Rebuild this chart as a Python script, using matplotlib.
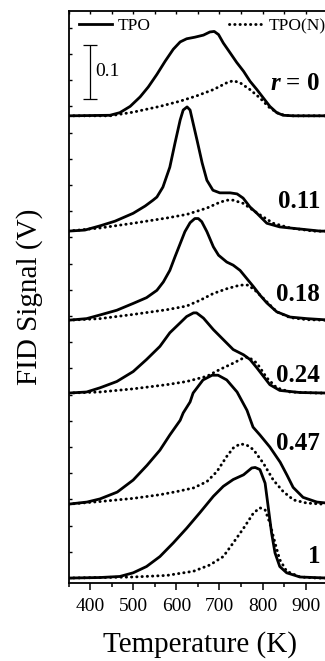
import matplotlib
matplotlib.use('Agg')
from matplotlib import pyplot as plt

plt.rcParams['font.family'] = ['Liberation Serif', 'DejaVu Serif']
plt.rcParams['mathtext.fontset'] = 'custom'
plt.rcParams['mathtext.it'] = 'Liberation Serif:italic:bold'
plt.rcParams['mathtext.rm'] = 'Liberation Serif:bold'

# r values and vertical offsets of each trace (V)
labels = ['$r$ = 0', '0.11', '0.18', '0.24', '0.47', '1']
offsets = [0.882, 0.662, 0.492, 0.353, 0.141, 0.0]
label_y = [0.931, 0.706, 0.529, 0.374, 0.244, 0.029]

# TPO (solid) traces: temperature (K), signal above baseline (V)
tpo_t = [
    [350, 446, 469, 493, 516, 535, 555, 574, 593, 609, 624, 643, 663, 678, 688, 698, 709, 725,
     740, 756, 771, 787, 802, 817, 833, 848, 872, 950],
    [350, 388, 423, 458, 500, 528, 546, 555, 569, 585, 597, 609, 616, 625, 632, 639, 648, 660,
     671, 685, 701, 725, 741, 755, 771, 787, 810, 840, 887, 934, 950],
    [350, 392, 423, 462, 500, 531, 555, 570, 585, 597, 609, 620, 632, 643, 651, 659, 671, 686,
     698, 717, 732, 748, 763, 779, 794, 810, 833, 864, 903, 941, 950],
    [350, 392, 423, 462, 500, 531, 562, 585, 609, 624, 640, 647, 663, 686, 709, 732, 756, 771,
     787, 802, 817, 840, 887, 950],
    [350, 393, 423, 463, 500, 532, 562, 585, 609, 616, 632, 639, 662, 683, 697, 717, 741, 764,
     778, 794, 817, 841, 857, 871, 894, 926, 950],
    [350, 423, 469, 500, 531, 562, 593, 624, 655, 686, 709, 732, 756, 775, 783, 794, 806, 813,
     821, 829, 840, 856, 887, 950],
]
tpo_v = [
    [0, 0.001, 0.006, 0.018, 0.036, 0.055, 0.079, 0.104, 0.127, 0.141, 0.147, 0.150, 0.154,
     0.160, 0.161, 0.155, 0.139, 0.120, 0.102, 0.085, 0.066, 0.050, 0.034, 0.018, 0.006, 0.001,
     0, 0],
    [0, 0.002, 0.010, 0.019, 0.034, 0.048, 0.059, 0.065, 0.084, 0.122, 0.168, 0.212, 0.231,
     0.237, 0.231, 0.206, 0.174, 0.130, 0.097, 0.078, 0.073, 0.073, 0.071, 0.063, 0.046, 0.034,
     0.015, 0.008, 0.004, 0, 0],
    [0, 0.003, 0.010, 0.019, 0.032, 0.043, 0.057, 0.073, 0.095, 0.121, 0.146, 0.169, 0.186,
     0.194, 0.194, 0.188, 0.169, 0.140, 0.124, 0.111, 0.105, 0.095, 0.080, 0.064, 0.048, 0.033,
     0.016, 0.006, 0.003, 0.001, 0],
    [0, 0.002, 0.010, 0.022, 0.041, 0.064, 0.089, 0.115, 0.134, 0.146, 0.153, 0.153, 0.143,
     0.121, 0.102, 0.083, 0.073, 0.064, 0.048, 0.032, 0.016, 0.005, 0.001, 0],
    [0, 0.004, 0.010, 0.023, 0.046, 0.074, 0.103, 0.132, 0.160, 0.174, 0.195, 0.212, 0.237,
     0.246, 0.246, 0.237, 0.214, 0.179, 0.147, 0.132, 0.109, 0.080, 0.055, 0.032, 0.013, 0.004,
     0.002],
    [0, 0.001, 0.003, 0.010, 0.022, 0.041, 0.067, 0.095, 0.125, 0.156, 0.175, 0.188, 0.197,
     0.210, 0.211, 0.207, 0.181, 0.137, 0.086, 0.048, 0.022, 0.010, 0.002, 0],
]

# TPO(N) (dotted) traces
tpon_t = [
    [350, 446, 500, 562, 609, 647, 686, 717, 732, 748, 771, 794, 817, 840, 864, 950],
    [350, 423, 500, 578, 625, 671, 701, 717, 732, 755, 778, 794, 825, 864, 918, 950],
    [350, 423, 500, 578, 624, 655, 686, 717, 748, 767, 787, 810, 833, 864, 903, 950],
    [350, 423, 500, 578, 624, 671, 701, 732, 756, 767, 787, 810, 833, 864, 926, 950],
    [350, 423, 500, 562, 601, 640, 671, 694, 717, 732, 748, 763, 779, 802, 825, 848, 872, 903,
     941, 950],
    [350, 500, 578, 640, 678, 709, 732, 756, 779, 794, 806, 817, 829, 840, 856, 887, 926, 950],
]
tpon_v = [
    [0, 0, 0.007, 0.018, 0.028, 0.038, 0.050, 0.063, 0.067, 0.063, 0.050, 0.034, 0.015, 0.003,
     0, 0],
    [0, 0.006, 0.015, 0.025, 0.032, 0.044, 0.055, 0.059, 0.059, 0.053, 0.040, 0.031, 0.015,
     0.006, 0, 0],
    [0, 0.003, 0.011, 0.020, 0.027, 0.038, 0.051, 0.060, 0.067, 0.067, 0.054, 0.035, 0.016,
     0.005, 0.001, 0],
    [0, 0.002, 0.008, 0.016, 0.022, 0.032, 0.045, 0.057, 0.067, 0.069, 0.057, 0.029, 0.010,
     0.002, 0, 0],
    [0, 0.005, 0.011, 0.018, 0.024, 0.031, 0.043, 0.062, 0.091, 0.107, 0.115, 0.113, 0.104,
     0.078, 0.046, 0.024, 0.008, 0.002, 0, 0],
    [0, 0.002, 0.005, 0.013, 0.025, 0.041, 0.067, 0.095, 0.124, 0.134, 0.130, 0.105, 0.067,
     0.035, 0.013, 0.002, 0, 0],
]

dot_style = (0, (0.1, 1.7))

fig = plt.figure(figsize=(3.25, 6.61), dpi=100)
ax = fig.add_axes([68.5 / 325, 78.5 / 661, 263 / 325, 571.5 / 661])

for i in range(len(labels)):
    ax.plot(tpo_t[i], [v + offsets[i] for v in tpo_v[i]], color='black', lw=2.0,
            solid_joinstyle='round', label='TPO' if i == 0 else None)
    ax.plot(tpon_t[i], [v + offsets[i] for v in tpon_v[i]], color='black', lw=2.1,
            ls=dot_style, dash_capstyle='round', label='TPO(N)' if i == 0 else None)
    ax.text(934, label_y[i], labels[i], ha='right', va='baseline', fontsize=18,
            fontweight='bold')

# scale bar
ax.errorbar([400], [0.966], yerr=[0.052], color='black', lw=0.9, capsize=5, capthick=0.9)
ax.text(411, 0.966, '0.1', ha='left', va='center', fontsize=14)

ax.set_xlim(350, 960)
ax.set_ylim(-0.0085, 1.082)
ax.set_xticks([400, 500, 600, 700, 800, 900])
ax.set_xticks(range(350, 960, 50), minor=True)
ax.set_yticks([i * 0.05 for i in range(22)])
ax.tick_params(axis='x', which='major', direction='out', length=5, width=1.1, labelsize=14, pad=6)
ax.tick_params(axis='x', which='minor', direction='out', length=3, width=1.1)
ax.tick_params(axis='y', which='major', direction='in', length=2.5, width=1.0, labelleft=False)
sec = ax.secondary_xaxis('top')
sec.set_xticks(range(350, 960, 50))
sec.tick_params(direction='in', length=2.5, width=1.0, labeltop=False)
sec.spines['top'].set_visible(False)
for s in ax.spines.values():
    s.set_linewidth(1.3)

ax.set_xlabel('Temperature (K)', fontsize=21, labelpad=12)
ax.set_ylabel('FID Signal (V)', fontsize=21, labelpad=18)

ax.legend(loc='upper left', bbox_to_anchor=(0.04, 0.988), ncol=2, frameon=False, fontsize=12.5,
          handlelength=1.9, handletextpad=0.35, columnspacing=4.5, borderpad=0,
          borderaxespad=0)

plt.savefig('out.png', dpi=100)
